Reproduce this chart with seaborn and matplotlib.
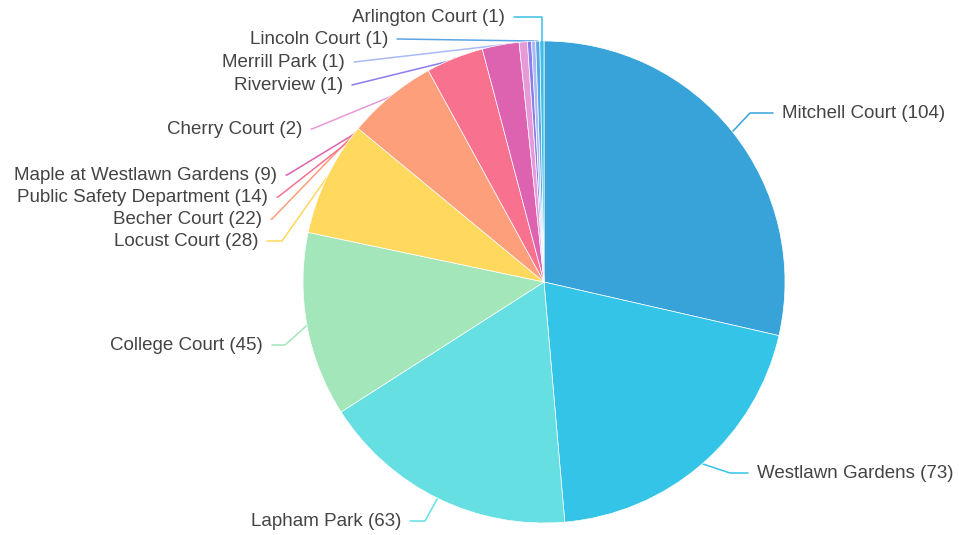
import numpy as np
import matplotlib.pyplot as plt
import seaborn as sns

# --- data ---
names = ['Mitchell Court', 'Westlawn Gardens', 'Lapham Park', 'College Court',
         'Locust Court', 'Becher Court', 'Public Safety Department',
         'Maple at Westlawn Gardens', 'Cherry Court', 'Riverview',
         'Merrill Park', 'Lincoln Court', 'Arlington Court']
counts = [104, 73, 63, 45, 28, 22, 14, 9, 2, 1, 1, 1, 1]
colors = ['#38a3d9', '#33c4e8', '#66dfe3', '#a2e6b9', '#fed95e', '#fe9f7b',
          '#f8718f', '#dd62b0', '#e79ad8', '#8b7deb', '#a9baf5', '#5aa5e4', '#3bbde6']

# label placement in pixels: (text x, text y, align, elbow x)
W, H = 959, 535
CX, CY, R = 544, 282, 241
label_pos = {
    'Mitchell Court':            (782, 113, 'left', 750),
    'Westlawn Gardens':          (757, 473, 'left', 730),
    'Lapham Park':               (401, 521, 'right', 425),
    'College Court':             (263, 345, 'right', 285),
    'Locust Court':              (258, 241, 'right', 282),
    'Becher Court':              (262, 219, 'right', 272),
    'Public Safety Department':  (268, 197, 'right', 278),
    'Maple at Westlawn Gardens': (277, 175, 'right', 287),
    'Cherry Court':              (302, 129, 'right', 312),
    'Riverview':                 (343, 85, 'right', 352),
    'Merrill Park':              (345, 62, 'right', 354),
    'Lincoln Court':             (388, 39, 'right', 398),
    'Arlington Court':           (505, 17, 'right', 515),
}


def px(x, y):
    return (x - CX) / R, (CY - y) / R


sns.set_theme(style='white')
plt.rcParams['font.family'] = ['Liberation Sans', 'DejaVu Sans']

fig = plt.figure(figsize=(W / 100, H / 100), dpi=100)
ax = fig.add_axes([0, 0, 1, 1])

wedges, _ = ax.pie(counts, colors=colors, startangle=90, counterclock=False,
                   radius=1, center=(0, 0), frame=True,
                   wedgeprops=dict(linewidth=0.5, edgecolor='white', zorder=2))
ax.set_xlim(-CX / R, (W - CX) / R)
ax.set_ylim(-(H - CY) / R, CY / R)
ax.set_aspect('equal')
ax.axis('off')

# connectors sit under the pie, like the original
for w, name, n, col in zip(wedges, names, counts, colors):
    mid = np.deg2rad((w.theta1 + w.theta2) / 2)
    ex, ey = np.cos(mid), np.sin(mid)
    tx, ty, ha, elx = label_pos[name]
    lx, ly = px(elx, ty)
    gap = 9 / R
    x0, y0 = px(tx, ty)
    endx = x0 + (gap if ha == 'right' else -gap)
    if name == 'Arlington Court':
        ax.plot([ex, ex, endx], [ey - 0.02, ly, ly], color=col, lw=1.1, zorder=3)
    else:
        ax.plot([ex, lx, endx], [ey, ly, ly], color=col, lw=1.1, zorder=1)
    ax.text(x0, y0, f'{name} ({n})', ha=ha, va='center', fontsize=13.5,
            color='#444444')

fig.savefig('out.png', dpi=100)
